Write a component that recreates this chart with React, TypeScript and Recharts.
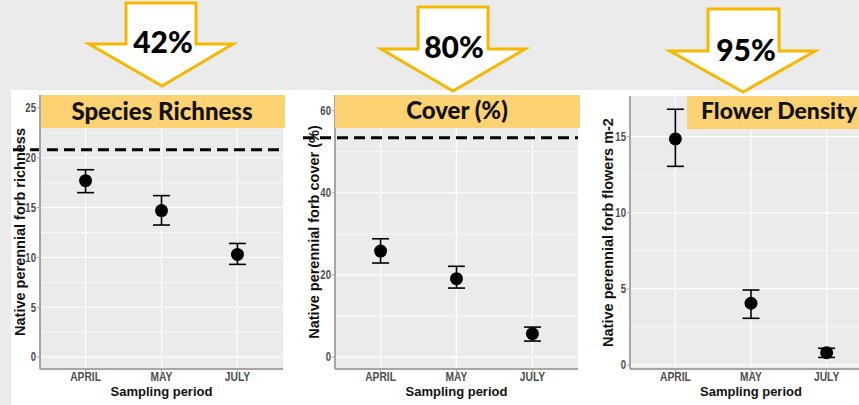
import React from 'react';
import {
  ScatterChart,
  Scatter,
  XAxis,
  YAxis,
  CartesianGrid,
  ErrorBar,
  ReferenceLine,
  Label,
} from 'recharts';

// sampling periods
const months = ['APRIL', 'MAY', 'JULY'];

// species richness: mean with lower / upper error bounds
const richnessMean = [17.7, 14.7, 10.3];
const richnessLow = [16.5, 13.25, 9.3];
const richnessHigh = [18.8, 16.2, 11.4];
const richnessRef = 20.8;

// cover (%)
const coverMean = [25.8, 19.1, 5.7];
const coverLow = [22.9, 16.8, 3.9];
const coverHigh = [28.8, 22.1, 7.3];
const coverRef = 53.4;

// flower density
const flowerMean = [14.85, 4.06, 0.81];
const flowerLow = [13.05, 3.07, 0.5];
const flowerHigh = [16.8, 4.93, 1.1];

// y tick labels (major / minor grid)
const richnessTicks = [0, 5, 10, 15, 20, 25];
const richnessMinor = [2.5, 7.5, 12.5, 17.5, 22.5];
const coverTicks = [0, 20, 40, 60];
const coverMinor = [10, 30, 50];
const flowerTicks = [0, 5, 10, 15];
const flowerMinor = [2.5, 7.5, 12.5];

// reductions shown in the arrows
const reductions = ['42%', '80%', '95%'];
const titles = ['Species Richness', 'Cover (%)', 'Flower Density'];

const toRows = (mean: number[], low: number[], high: number[]) =>
  mean.map((m, i) => ({ x: i + 1, y: m, err: [m - low[i], high[i] - m] }));

const sansBold = '"Liberation Sans", Arial, sans-serif';

// narrow, grey, bold tick text like the R defaults in the picture
const XTick = ({ x, y, payload }: any) => (
  <text
    transform={`translate(${x},${y}) scale(0.82,1)`}
    textAnchor="middle"
    dy="0.72em"
    fontFamily={sansBold}
    fontWeight={700}
    fontSize={12.5}
    fill="#4d4d4d"
  >
    {months[payload.value - 1]}
  </text>
);

const YTick = ({ x, y, payload }: any) => (
  <text
    transform={`translate(${x},${y}) scale(0.8,1)`}
    textAnchor="end"
    dy="0.36em"
    fontFamily={sansBold}
    fontWeight={700}
    fontSize={12}
    fill="#4d4d4d"
  >
    {payload.value}
  </text>
);

interface PanelProps {
  left: number;
  width: number;
  margin: { top: number; right: number; bottom: number; left: number };
  yWidth: number;
  domain: [number, number];
  ticks: number[];
  minor: number[];
  rows: { x: number; y: number; err: number[] }[];
  refValue?: number;
  refExtend?: number;
  yTitle: string;
  yGap: number;
}

const Panel: React.FC<PanelProps> = ({
  left, width, margin, yWidth, domain, ticks, minor, rows, refValue, refExtend = 0, yTitle, yGap,
}) => (
  <div style={{ position: 'absolute', left, top: 90 }}>
    <ScatterChart width={width} height={315} margin={margin}>
      <CartesianGrid
        fill="#ebebeb"
        stroke="#fff"
        strokeWidth={0.6}
        vertical={false}
        horizontalValues={minor}
      />
      <CartesianGrid stroke="#fff" strokeWidth={1.2} horizontalValues={ticks} verticalValues={[1, 2, 3]} />
      <XAxis
        type="number"
        dataKey="x"
        domain={[0.4, 3.6]}
        ticks={[1, 2, 3]}
        allowDataOverflow
        height={36}
        tickSize={3}
        tickMargin={0}
        tick={<XTick />}
        axisLine={{ stroke: '#a6a6a6', strokeWidth: 2 }}
        tickLine={{ stroke: '#a6a6a6' }}
      >
        <Label
          content={({ viewBox }: any) => (
            <text
              x={viewBox.x + viewBox.width / 2}
              y={viewBox.y + 27}
              textAnchor="middle"
              fontFamily={sansBold}
              fontWeight={700}
              fontSize={13}
              fill="#111"
            >
              Sampling period
            </text>
          )}
        />
      </XAxis>
      <YAxis
        type="number"
        dataKey="y"
        domain={domain}
        ticks={ticks}
        allowDataOverflow
        width={yWidth}
        tickSize={3}
        tickMargin={1}
        tick={<YTick />}
        axisLine={{ stroke: '#a6a6a6', strokeWidth: 2 }}
        tickLine={{ stroke: '#a6a6a6' }}
      >
        <Label
          content={({ viewBox }: any) => {
            const x = viewBox.x + viewBox.width - yGap;
            const y = viewBox.y + viewBox.height / 2;
            return (
              <text
                x={x}
                y={y}
                transform={`rotate(-90 ${x} ${y})`}
                textAnchor="middle"
                fontFamily={sansBold}
                fontWeight={700}
                fontSize={14.5}
                fill="#111"
              >
                {yTitle}
              </text>
            );
          }}
        />
      </YAxis>
      {refValue !== undefined && (
        <ReferenceLine
          y={refValue}
          ifOverflow="visible"
          shape={(p: any) => (
            <line
              x1={p.x1 - refExtend}
              y1={p.y1}
              x2={p.x2}
              y2={p.y2}
              stroke="#000"
              strokeWidth={3}
              strokeDasharray="11 6"
            />
          )}
        />
      )}
      <Scatter
        data={rows}
        dataKey="y"
        isAnimationActive={false}
        shape={(p: any) => <circle cx={p.cx} cy={p.cy} r={6.5} fill="#000" />}
      >
        <ErrorBar dataKey="err" direction="y" width={8.5} stroke="#000" strokeWidth={1.6} isAnimationActive={false} />
      </Scatter>
    </ScatterChart>
  </div>
);

const arrows = [
  { pts: '126,3 196,3 196,44 233,44 162,86 89,44 126,44', tx: 163, ty: 53 },
  { pts: '418,7 488,7 488,49 525,49 453,91 381,49 418,49', tx: 454, ty: 58 },
  { pts: '708,9 779,9 779,51 815,51 743,92 670,51 708,51', tx: 746, ty: 61 },
];
const boxes = [
  { x: 41, y: 95, w: 244, tx: 162, ty: 120, fs: 24 },
  { x: 335, y: 95, w: 245, tx: 457, ty: 119, fs: 24 },
  { x: 687, y: 96, w: 190, tx: 779, ty: 119, fs: 23 },
];

export default function App() {
  return (
    <div
      style={{
        position: 'fixed',
        left: 0,
        top: 0,
        width: 859,
        height: 405,
        overflow: 'hidden',
        background: '#fff',
      }}
    >
      <div style={{ position: 'absolute', left: 0, top: 0, width: 859, height: 90, background: '#ebebeb' }} />
      <div style={{ position: 'absolute', left: 0, top: 90, width: 11, height: 315, background: '#ebebeb' }} />
      <Panel
        left={11}
        width={279}
        margin={{ top: 5, right: 7, bottom: 0, left: 0 }}
        yWidth={29}
        domain={[-1.2, 26.3]}
        ticks={richnessTicks}
        minor={richnessMinor}
        rows={toRows(richnessMean, richnessLow, richnessHigh)}
        refValue={richnessRef}
        refExtend={27}
        yTitle="Native perennial forb richness"
        yGap={15}
      />
      <Panel
        left={290}
        width={300}
        margin={{ top: 5, right: 12, bottom: 0, left: 0 }}
        yWidth={45}
        domain={[-2.9, 63.8]}
        ticks={coverTicks}
        minor={coverMinor}
        rows={toRows(coverMean, coverLow, coverHigh)}
        refValue={coverRef}
        refExtend={32}
        yTitle="Native perennial forb cover (%)"
        yGap={16}
      />
      <Panel
        left={590}
        width={282}
        margin={{ top: 6, right: 0, bottom: 0, left: 0 }}
        yWidth={40}
        domain={[-0.26, 17.67]}
        ticks={flowerTicks}
        minor={flowerMinor}
        rows={toRows(flowerMean, flowerLow, flowerHigh)}
        yTitle="Native perennial forb flowers m-2"
        yGap={17}
      />
      <svg
        width={859}
        height={405}
        style={{ position: 'absolute', left: 0, top: 0, pointerEvents: 'none' }}
      >
        {boxes.map((b, i) => (
          <g key={`b${i}`}>
            <rect x={b.x} y={b.y} width={b.w} height={33} fill="#fdd273" />
            <text
              x={b.tx}
              y={b.ty}
              textAnchor="middle"
              fontFamily="Lato, 'Open Sans', sans-serif"
              fontWeight={900}
              fontSize={b.fs}
              fill="#111"
            >
              {titles[i]}
            </text>
          </g>
        ))}
        {arrows.map((a, i) => (
          <g key={`a${i}`}>
            <polygon points={a.pts} fill="#fff" stroke="#f5b800" strokeWidth={3} />
            <text
              x={a.tx}
              y={a.ty}
              textAnchor="middle"
              fontFamily="Lato, 'Open Sans', sans-serif"
              fontWeight={900}
              fontSize={30}
              fill="#000"
            >
              {reductions[i]}
            </text>
          </g>
        ))}
      </svg>
    </div>
  );
}
